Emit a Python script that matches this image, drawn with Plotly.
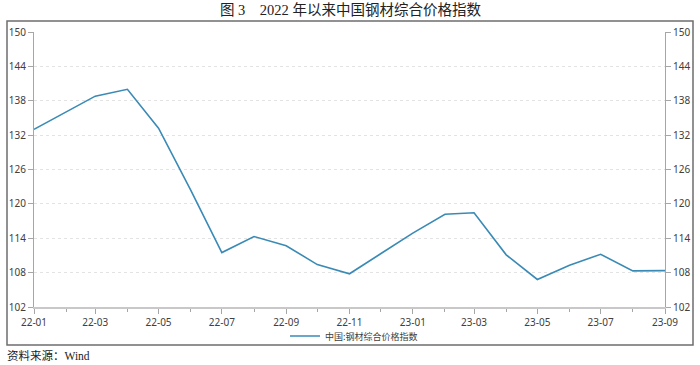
import plotly.graph_objects as go

months = ["2022-01-01", "2022-02-01", "2022-03-01", "2022-04-01", "2022-05-01", "2022-06-01",
          "2022-07-01", "2022-08-01", "2022-09-01", "2022-10-01", "2022-11-01", "2022-12-01",
          "2023-01-01", "2023-02-01", "2023-03-01", "2023-04-01", "2023-05-01", "2023-06-01",
          "2023-07-01", "2023-08-01", "2023-09-01"]
index_values = [133.0, 136.1, 138.8, 140.0, 133.2, 122.4, 111.5, 114.3, 112.7, 109.4, 107.8, 111.3,
                114.9, 118.2, 118.45, 111.1, 106.8, 109.3, 111.2, 108.3, 108.35]
y_ticks = [102, 108, 114, 120, 126, 132, 138, 144, 150]
series_name = "中国:钢材综合价格指数"
title_text = "图 3　2022 年以来中国钢材综合价格指数"
source_text = "资料来源：Wind"

W, H = 700, 365
L, R, T, B = 34, 35, 32, 58
pw, ph = W - L - R, H - T - B

def px_x(px):
    return (px - L) / pw

def px_y(py):
    return (H - B - py) / ph

line_color = "#3a8ab6"
axis_color = "#a6a6a6"
tick_font = dict(family="Noto Sans, Noto Sans CJK SC", size=10, color="#404040")

fig = go.Figure()
fig.add_trace(go.Scatter(x=months, y=index_values, mode="lines", name=series_name,
                         line=dict(color=line_color, width=1.6)))
fig.add_trace(go.Scatter(x=months, y=index_values, mode="lines", yaxis="y2", showlegend=False,
                         hoverinfo="skip", line=dict(color="rgba(0,0,0,0)", width=0)))

fig.update_layout(
    width=W, height=H,
    margin=dict(l=L, r=R, t=T, b=B, autoexpand=False),
    paper_bgcolor="white", plot_bgcolor="white",
    showlegend=True,
    legend=dict(orientation="h", x=px_x(354), xanchor="center", y=px_y(336), yanchor="middle",
                font=dict(family="Noto Sans CJK SC", size=9, color="#404040"),
                itemwidth=30, bgcolor="rgba(0,0,0,0)", borderwidth=0),
    xaxis=dict(type="date", range=[months[0], months[-1]], tickformat="%y-%m", dtick="M2",
               tick0=months[0], ticks="outside", ticklen=5, tickcolor=axis_color,
               showline=True, linecolor="#c8c8c8", linewidth=1.5, showgrid=False,
               zeroline=False, tickfont=tick_font, automargin=False,
               minor=dict(dtick="M1", tick0=months[0], ticks="outside", ticklen=3,
                          tickcolor=axis_color, showgrid=False)),
    yaxis=dict(range=[102, 150], tickvals=y_ticks, ticks="outside", ticklen=5,
               tickcolor=axis_color, showline=True, linecolor=axis_color, linewidth=1.2,
               showgrid=True, gridcolor="#e3e3e3", griddash="dot", gridwidth=1,
               zeroline=False, tickfont=tick_font, automargin=False),
    yaxis2=dict(range=[102, 150], tickvals=y_ticks, overlaying="y", side="right",
                ticks="outside", ticklen=5, tickcolor=axis_color, showline=True,
                linecolor=axis_color, linewidth=1.2, showgrid=False, zeroline=False,
                tickfont=tick_font, automargin=False),
    shapes=[dict(type="rect", xref="paper", yref="paper",
                 x0=px_x(7), x1=px_x(693), y0=px_y(345), y1=px_y(21),
                 line=dict(color="#6e6e6e", width=1.5), fillcolor="rgba(0,0,0,0)", layer="below")],
    annotations=[
        dict(text=title_text, xref="paper", yref="paper", x=px_x(350), y=px_y(10),
             xanchor="center", yanchor="middle", showarrow=False,
             font=dict(family="Liberation Serif, Noto Sans CJK SC", size=14.5, color="#222222")),
        dict(text=source_text, xref="paper", yref="paper", x=px_x(5), y=px_y(355),
             xanchor="left", yanchor="middle", showarrow=False,
             font=dict(family="Liberation Serif, Noto Sans CJK SC", size=11.5, color="#222222")),
    ],
)

fig.write_html("out.html", config={"displayModeBar": False},
               post_script="document.body.style.margin='0';document.body.style.overflow='hidden';")
